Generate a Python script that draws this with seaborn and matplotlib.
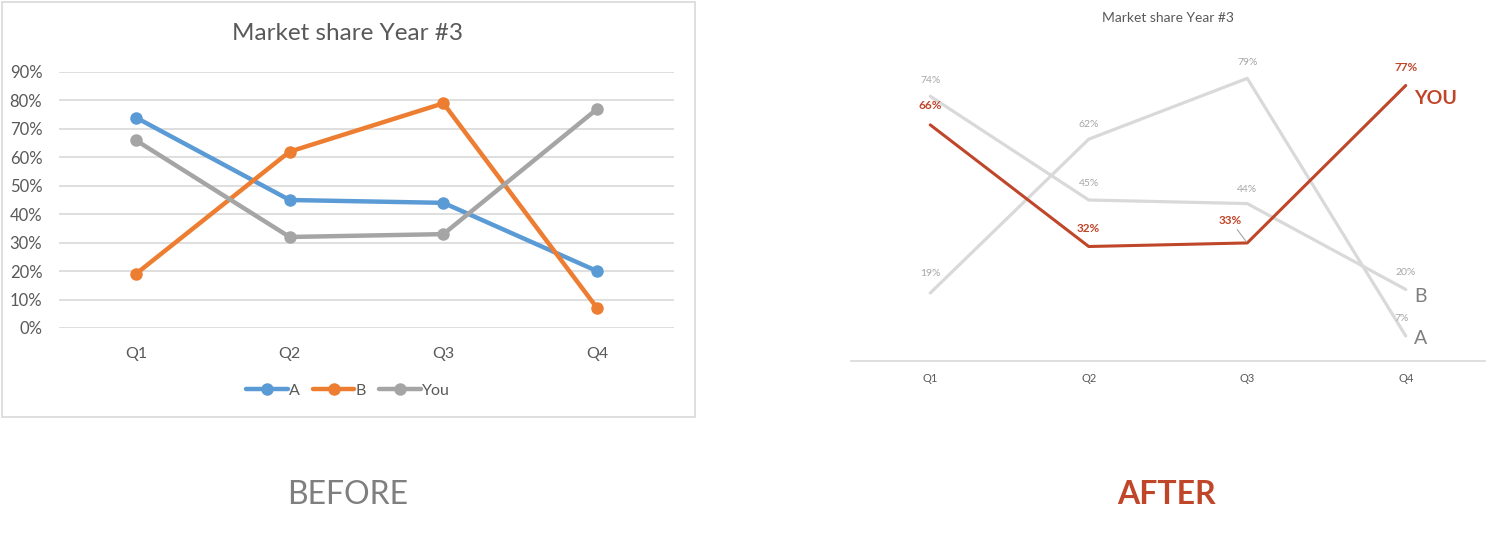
import matplotlib.pyplot as plt
import matplotlib.patches as mpatches
import matplotlib.ticker as mticker
import seaborn as sns
import pandas as pd

quarters = ['Q1', 'Q2', 'Q3', 'Q4']
share_a = [0.74, 0.45, 0.44, 0.20]
share_b = [0.19, 0.62, 0.79, 0.07]
share_you = [0.66, 0.32, 0.33, 0.77]
series_names = ['A', 'B', 'You']
end_labels = ['B', 'A', 'YOU']   # names written at the line ends in the "after" chart
chart_title = 'Market share Year #3'

df = pd.DataFrame({
  'Quarter': quarters * 3,
  'Share': share_a + share_b + share_you,
  'Series': [s for s in series_names for _ in quarters],
})

sns.set_theme(style="white")
plt.rcParams['font.family'] = ['Lato', 'DejaVu Sans']

RED = '#C0462A'
LIGHT = '#D9D9D9'
TEXT = '#595959'

fig = plt.figure(figsize=(14.94, 5.41), dpi=100)

# ---------- BEFORE ----------
fig.patches.append(mpatches.Rectangle((2 / 1494, 1 - 417 / 541), 693 / 1494, 415 / 541,
                                      transform=fig.transFigure, fill=False,
                                      edgecolor=LIGHT, linewidth=1.2))
ax1 = fig.add_axes([59 / 1494, 1 - 328 / 541, 615 / 1494, 256 / 541])
sns.lineplot(data=df, x='Quarter', y='Share', hue='Series',
             palette=['#5B9BD5', '#ED7D31', '#A5A5A5'],
             marker='o', markersize=9, markeredgewidth=0, linewidth=3.2,
             ax=ax1)
ax1.set_xlim(-0.5, 3.5)
ax1.set_ylim(0, 0.9)
ax1.set_yticks([i / 10 for i in range(10)])
ax1.yaxis.set_major_formatter(mticker.PercentFormatter(1.0, decimals=0))
ax1.grid(axis='y', color=LIGHT, linewidth=1.2)
ax1.set_axisbelow(True)
for sp in ax1.spines.values():
  sp.set_visible(False)
ax1.tick_params(axis='y', labelsize=12, labelcolor=TEXT, pad=12, length=0)
ax1.tick_params(axis='x', labelsize=11.5, labelcolor=TEXT, pad=14, length=0)
ax1.set_xlabel('')
ax1.set_ylabel('')
# title is centred on the chart box, not on the plot area
fig.text(348 / 1494, 1 - 33 / 541, chart_title, ha='center', va='center',
         fontsize=17.5, color=TEXT)
ax1.legend(loc='upper center', bbox_to_anchor=(0.47, -0.16), ncol=3, frameon=False,
           fontsize=11.5, labelcolor=TEXT, handlelength=2.6, handletextpad=0.1,
           columnspacing=0.8)

fig.text(348 / 1494, 1 - 495 / 541, 'BEFORE', ha='center', va='center',
         fontsize=23, color='#7F7F7F')

# ---------- AFTER ----------
ax2 = fig.add_axes([851 / 1494, 1 - 361 / 541, 634 / 1494, 322 / 541])
sns.lineplot(data=df[df['Series'] != 'You'], x='Quarter', y='Share', hue='Series',
             palette=[LIGHT, LIGHT], linewidth=2.3, legend=False, ax=ax2)
sns.lineplot(data=df[df['Series'] == 'You'], x='Quarter', y='Share',
             color=RED, linewidth=2.2, legend=False, ax=ax2)
ax2.set_xlim(-0.5, 3.5)
ax2.set_ylim(0, 0.9)
ax2.set_yticks([])
for name, sp in ax2.spines.items():
  sp.set_visible(name == 'bottom')
ax2.spines['bottom'].set_color(LIGHT)
ax2.spines['bottom'].set_linewidth(1.2)
ax2.tick_params(axis='x', labelsize=8, labelcolor=TEXT, pad=9, length=0)
ax2.set_xlabel('')
ax2.set_ylabel('')
ax2.set_title(chart_title, fontsize=10, color=TEXT, pad=12)

grey_offsets = [[(0, 8), (0, 9), (0, 7), (0, 9)],
                [(0, 11), (0, 7), (0, 8), (-3, 9)]]
for vals, offs in zip([share_a, share_b], grey_offsets):
  for i, (v, off) in enumerate(zip(vals, offs)):
    ax2.annotate(f'{v:.0%}', (i, v), xytext=off, textcoords='offset points',
                 ha='center', va='bottom', fontsize=7.5, color='#A6A6A6')

you_offsets = [(0, 10), (0, 9), (-12, 12), (0, 9)]
for i, (v, off) in enumerate(zip(share_you, you_offsets)):
  arrow = dict(arrowstyle='-', color='#A6A6A6', lw=0.8, shrinkA=0, shrinkB=1) if i == 2 else None
  ax2.annotate(f'{v:.0%}', (i, v), xytext=off, textcoords='offset points',
               ha='center', va='bottom', fontsize=8.5, fontweight='bold', color=RED,
               arrowprops=arrow)

end_styles = [dict(color='#7F7F7F', fontsize=14, offset=(6, -5)),
              dict(color='#7F7F7F', fontsize=14, offset=(6, -2)),
              dict(color=RED, fontsize=14, fontweight='bold', offset=(6, -9))]
for vals, lab, st in zip([share_a, share_b, share_you], end_labels, end_styles):
  st = dict(st)
  off = st.pop('offset')
  ax2.annotate(lab, (3, vals[-1]), xytext=off, textcoords='offset points',
               ha='left', va='center', **st)

fig.text(1166 / 1494, 1 - 495 / 541, 'AFTER', ha='center', va='center',
         fontsize=23, fontweight='bold', color=RED)

plt.savefig('out.png', dpi=100)
